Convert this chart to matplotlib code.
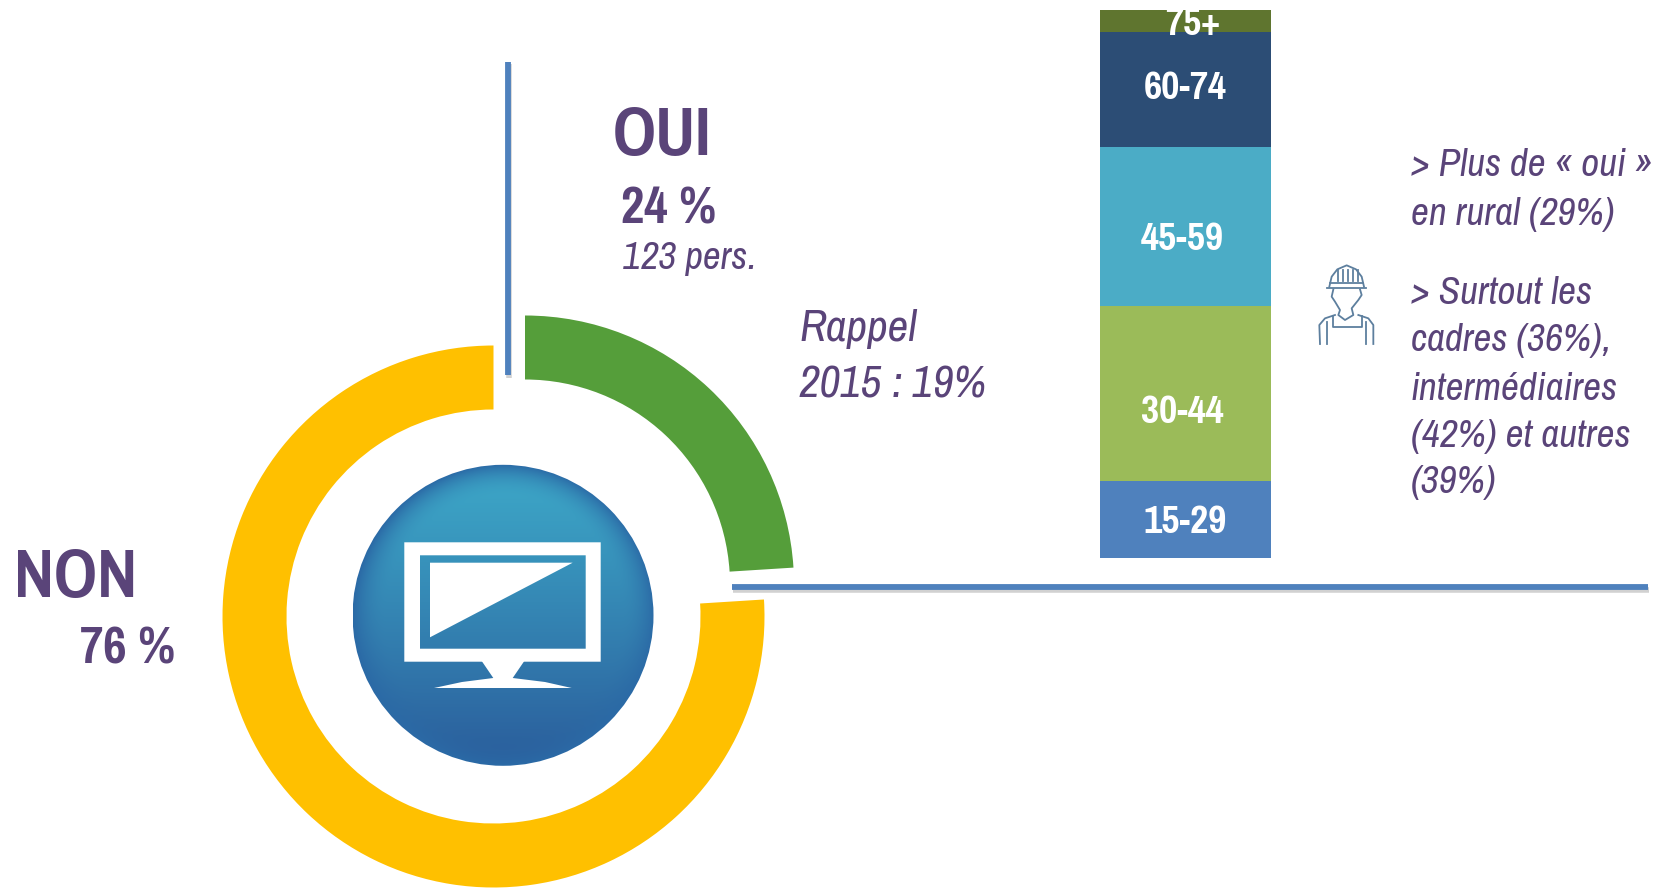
import matplotlib
matplotlib.use("Agg")
import matplotlib.pyplot as plt
import numpy as np
from matplotlib.patches import Circle, Polygon

W, H = 1676, 888

answers = ["OUI", "NON"]
answer_values = [24, 76]
age_labels = ["15-29", "30-44", "45-59", "60-74", "75+"]
age_values = [14, 32, 29, 21, 4]
age_colors = ["#4f81bd", "#9bbb59", "#4bacc6", "#2c4d75", "#5f752f"]

PURPLE = "#5a4479"
BLUE = "#4f81bd"
BOLD_FONT = ["Pragati Narrow", "Liberation Sans", "DejaVu Sans"]
ITALIC_FONT = ["Archivo Narrow", "Liberation Sans", "DejaVu Sans"]


def Y(y):
    return H - y


fig = plt.figure(figsize=(W / 100, H / 100), dpi=100, facecolor="white")
ax = fig.add_axes([0, 0, 1, 1])


def ring(cx, cy, radius, colors):
    ax.pie(answer_values, colors=colors, startangle=90, counterclock=False,
           center=(cx, Y(cy)), radius=radius, frame=True,
           wedgeprops={"width": 64, "linewidth": 0})


ring(525, 584.5, 269, ["#559e3a", "none"])
ring(493.5, 616.5, 271, ["none", "#ffc000"])

# Separator lines with their soft shadow
ax.plot([509, 509], [Y(64), Y(378)], color="#999999", lw=4, alpha=0.45, solid_capstyle="butt")
ax.plot([508, 508], [Y(62), Y(375)], color=BLUE, lw=4.2, solid_capstyle="butt")
ax.plot([733, 1649], [Y(589.5), Y(589.5)], color="#999999", lw=4, alpha=0.45, solid_capstyle="butt")
ax.plot([732, 1648], [Y(587), Y(587)], color=BLUE, lw=4.2, solid_capstyle="butt")

# Round badge with a monitor
cx, cy, r = 503, 615.3, 150.5
yy, xx = np.mgrid[-1:1:400j, -1:1:400j]
dist = np.clip(np.hypot(xx, yy), 0, 1)
top = np.array([0x3d, 0xa8, 0xc8])
bottom = np.array([0x2a, 0x5c, 0x9b])
edge = np.array([0x2b, 0x6a, 0xa6])
t = ((yy + 1) / 2)[..., None] ** 1.1
shade = top * (1 - t) + bottom * t
rim = (np.clip((dist - 0.78) / 0.22, 0, 1) ** 2)[..., None]
img = (shade * (1 - rim) + edge * rim) / 255
im = ax.imshow(img, extent=(cx - r, cx + r, Y(cy + r), Y(cy - r)), origin="upper",
               aspect="auto", zorder=2)
im.set_clip_path(Circle((cx, Y(cy)), r, transform=ax.transData))

ax.add_patch(Polygon([(404.3, Y(542.3)), (600.7, Y(542.3)), (600.7, Y(661.7)), (404.3, Y(661.7)), (404.3, Y(542.3)),
                      (420, Y(555.3)), (420, Y(648.7)), (585.7, Y(648.7)), (585.7, Y(555.3)), (420, Y(555.3))],
                     closed=True, fc="white", ec="none", zorder=3))
ax.add_patch(Polygon([(430, Y(562.7)), (572.7, Y(562.7)), (430, Y(637.3))], fc="white", ec="none", zorder=3))
ax.add_patch(Polygon([(481.7, Y(661)), (524.3, Y(661)), (512.7, Y(678)), (545, Y(682)), (571.7, Y(688)),
                      (434, Y(688)), (462, Y(682)), (493.3, Y(678))], fc="white", ec="none", zorder=3))


# Worker icon, traced in zoomed pixels
def icon(points):
    pts = np.array(points, dtype=float)
    ax.plot(1290 + pts[:, 0] / 3, Y(240 + pts[:, 1] / 3), color="#5d7f9e", lw=1.3, zorder=3,
            solid_joinstyle="round")


icon([(118, 140), (125, 110), (142, 88), (170, 76), (198, 88), (215, 110), (222, 140)])
icon([(112, 143), (228, 143)])
icon([(120, 128), (220, 128)])
for rib in [145, 160, 175, 190, 205]:
    icon([(rib, 90), (rib, 122)])
icon([(130, 148), (125, 170), (135, 185), (150, 210), (145, 225), (165, 240), (190, 225), (185, 205),
      (205, 180), (215, 165), (210, 148)])
icon([(90, 312), (88, 255), (105, 235), (135, 225)])
icon([(250, 312), (250, 255), (235, 235), (205, 225)])
icon([(112, 312), (112, 245)])
icon([(228, 312), (228, 245)])
icon([(130, 228), (130, 262), (215, 262), (215, 228)])

ax.set_xlim(0, W)
ax.set_ylim(0, H)
ax.set_aspect("auto")
ax.axis("off")

# Stacked age bar, scaled in percent
bar_ax = fig.add_axes([1100 / W, (H - 558) / H, 171 / W, 548 / H])
bar_ax.axis("off")
bar_ax.set_xlim(0, 1)
bar_ax.set_ylim(0, 100)
label_dx = [0, -0.02, -0.02, 0, 0.04]
label_dy = [-0.6, -3.4, -2.4, 0.1, -0.6]
base = 0
for name, value, color, dx, dy in zip(age_labels, age_values, age_colors, label_dx, label_dy):
    bar_ax.bar(0.5, value, 1, bottom=base, color=color, linewidth=0)
    bar_ax.text(0.5 + dx, base + value / 2 + dy, name, ha="center", va="center", color="white",
                fontsize=31, fontweight="bold", family=BOLD_FONT, clip_on=False)
    base += value


def bold_label(x, y, text, size):
    ax.text(x, Y(y), text, fontsize=size, color=PURPLE, family=BOLD_FONT, va="center", fontweight="bold")


def italic_label(x, y, text, size):
    ax.text(x, Y(y), text, fontsize=size, color=PURPLE, family=ITALIC_FONT, va="center", style="italic")


bold_label(613, 136, answers[0], 53)
bold_label(621, 209, "%d %%" % answer_values[0], 40)
italic_label(623, 259, "123 pers.", 28)
italic_label(799, 329, "Rappel", 32.5)
italic_label(799, 385, "2015 : 19%", 32.5)
bold_label(14, 578, answers[1], 53)
bold_label(80, 649, "%d %%" % answer_values[1], 40)

side_lines = [(165, "> Plus de « oui »"), (214, "en rural (29%)"), (293, "> Surtout les"),
              (340, "cadres (36%),"), (389, "intermédiaires"), (437, "(42%) et autres"), (482, "(39%)")]
for y, line in side_lines:
    italic_label(1411, y, line, 28.2)

fig.savefig("out.png", dpi=100, facecolor="white")
